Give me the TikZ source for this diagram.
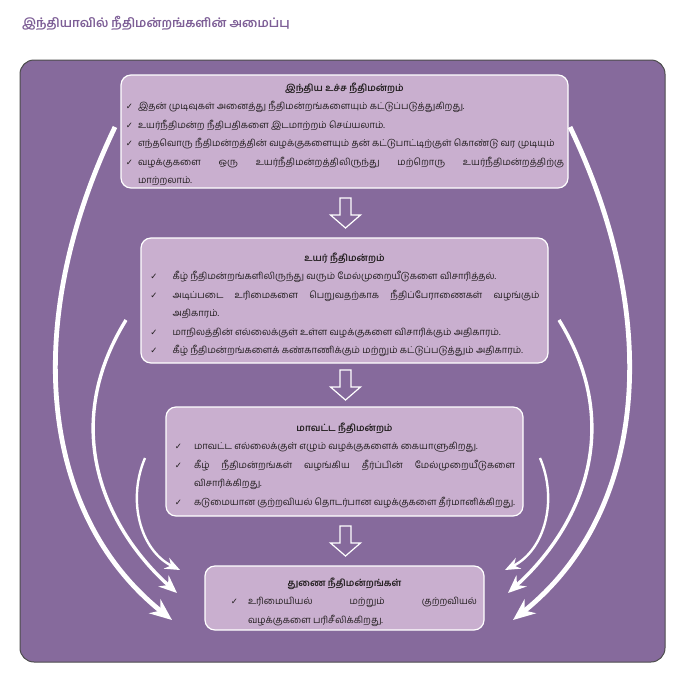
\documentclass[tikz,border=0pt]{standalone}
\usepackage{fontspec}
\newfontfamily\tamilfont[Script=Tamil]{Hind Madurai}
\newfontfamily\tickfont{DejaVu Sans}
\usetikzlibrary{arrows.meta,calc}

\definecolor{courtPurple}{HTML}{866A9C}
\definecolor{courtLilac}{HTML}{C9AFCF}
\definecolor{titlePurple}{HTML}{7D5E96}
\definecolor{courtText}{HTML}{231F20}

\newcommand{\bodySize}{\fontsize{9.4}{18.5}\selectfont}
\newcommand{\tickMark}{{\tickfont\fontsize{8.5}{9}\selectfont ✓}}
\newenvironment{ticklist}[2]{%
  \begin{list}{\tickMark}{%
    \setlength{\leftmargin}{#1}\setlength{\labelsep}{#2}%
    \setlength{\labelwidth}{\dimexpr#1-#2\relax}%
    \setlength{\itemsep}{0pt}\setlength{\parsep}{0pt}%
    \setlength{\topsep}{0pt}\setlength{\partopsep}{0pt}}}%
  {\end{list}}
\newcommand{\courtHead}[2]{{\centering\bfseries\rule{0pt}{#1}#2\par}}

\newcommand{\courtX}{344.5}
\newcommand{\arrowHalfLen}{15}
\newcommand{\shaftHalf}{5.5}
\newcommand{\headHalf}{15}

\tikzset{
  court/.style={draw=white, line width=1.2pt, fill=courtLilac, rounded corners=10pt,
    text=courtText, align=justify, inner ysep=2pt, font=\tamilfont\bodySize},
  hollow/.style={draw=white, line width=1.2pt, fill=courtPurple, line join=miter},
  bigarc/.style={white, line width=4.8pt, -{Stealth[length=22pt, width=18pt, inset=7pt]}},
  midarc/.style={white, line width=3.4pt, -{Stealth[length=18pt, width=15pt, inset=6pt]}},
  smallarc/.style={white, line width=2.4pt, -{Stealth[length=15pt, width=12pt, inset=5pt]}}
}

\begin{document}
\begin{tikzpicture}[x=1pt, y=-1pt]
    \useasboundingbox (0,0) rectangle (680,678);

    % Title
    \node[anchor=west, inner sep=0pt, text=titlePurple, font=\tamilfont\bfseries\fontsize{12.4}{15}\selectfont] (title) at (22,23) {இந்தியாவில் நீதிமன்றங்களின் அமைப்பு};

    % Frame
    \draw[line width=1pt, draw=black!70, fill=courtPurple, rounded corners=14pt] (20,60) rectangle (665,662);

    % Courts
    \node[court, text width=439pt, inner xsep=4pt, minimum height=113pt] (supreme) at (\courtX,131.5) {%
      \courtHead{14pt}{இந்திய உச்ச நீதிமன்றம்}
      \begin{ticklist}{13pt}{5pt}
        \item இதன் முடிவுகள் அனைத்து நீதிமன்றங்களையும் கட்டுப்படுத்துகிறது.
        \item உயர்நீதிமன்ற நீதிபதிகளை இடமாற்றம் செய்யலாம்.
        \item எந்தவொரு நீதிமன்றத்தின் வழக்குகளையும் தன் கட்டுபாட்டிற்குள் கொண்டு வர முடியும்
        \item வழக்குகளை ஒரு உயர்நீதிமன்றத்திலிருந்து மற்றொரு உயர்நீதிமன்றத்திற்கு\linebreak மாற்றலாம்.
      \end{ticklist}};
    \node[court, text width=390pt, inner xsep=8.5pt, minimum height=125pt] (high) at (\courtX,300.5) {%
      \courtHead{17pt}{உயர் நீதிமன்றம்}
      \begin{ticklist}{23pt}{15pt}
        \item கீழ் நீதிமன்றங்களிலிருந்து வரும் மேல்முறையீடுகளை விசாரித்தல்.
        \item அடிப்படை உரிமைகளை பெறுவதற்காக நீதிப்பேராணைகள் வழங்கும்\linebreak அதிகாரம்.
        \item மாநிலத்தின் எல்லைக்குள் உள்ள வழக்குகளை விசாரிக்கும் அதிகாரம்.
        \item கீழ் நீதிமன்றங்களைக் கண்காணிக்கும் மற்றும் கட்டுப்படுத்தும் அதிகாரம்.
      \end{ticklist}};
    \node[court, text width=341pt, inner xsep=8pt, minimum height=109pt] (district) at (\courtX,461.5) {%
      \courtHead{17pt}{மாவட்ட நீதிமன்றம்}
      \begin{ticklist}{20pt}{12pt}
        \item மாவட்ட எல்லைக்குள் எழும் வழக்குகளைக் கையாளுகிறது.
        \item கீழ் நீதிமன்றங்கள் வழங்கிய தீர்ப்பின் மேல்முறையீடுகளை\linebreak விசாரிக்கிறது.
        \item கடுமையான குற்றவியல் தொடர்பான வழக்குகளை தீர்மானிக்கிறது.
      \end{ticklist}};
    \node[court, text width=265pt, inner xsep=7pt, minimum height=64pt] (subordinate) at (\courtX,598) {%
      \courtHead{17pt}{துணை நீதிமன்றங்கள்}
      \begin{ticklist}{36pt}{10pt}
        \item உரிமையியல் மற்றும் குற்றவியல்\linebreak வழக்குகளை பரிசீலிக்கிறது.
      \end{ticklist}};

    % Draw hollow arrows between courts
    \coordinate (gapA) at ($(supreme.south)!0.5!(high.north)+(1,0)$);
    \coordinate (gapB) at ($(high.south)!0.5!(district.north)+(1,0)$);
    \coordinate (gapC) at ($(district.south)!0.5!(subordinate.north)+(1,0)$);
    \draw[hollow] ($(gapA)+(-\shaftHalf,-\arrowHalfLen)$) -- ++(2*\shaftHalf,0) -- ++(0,17) -- ++(\headHalf-\shaftHalf,0) -- ($(gapA)+(0,\arrowHalfLen)$) -- ++(-\headHalf,-13) -- ++(\headHalf-\shaftHalf,0) -- cycle;
    \draw[hollow] ($(gapB)+(-\shaftHalf,-\arrowHalfLen)$) -- ++(2*\shaftHalf,0) -- ++(0,17) -- ++(\headHalf-\shaftHalf,0) -- ($(gapB)+(0,\arrowHalfLen)$) -- ++(-\headHalf,-13) -- ++(\headHalf-\shaftHalf,0) -- cycle;
    \draw[hollow] ($(gapC)+(-\shaftHalf,-\arrowHalfLen)$) -- ++(2*\shaftHalf,0) -- ++(0,17) -- ++(\headHalf-\shaftHalf,0) -- ($(gapC)+(0,\arrowHalfLen)$) -- ++(-\headHalf,-13) -- ++(\headHalf-\shaftHalf,0) -- cycle;

    % Draw left arcs
    \coordinate (outerLeftStart) at (115,127);
    \coordinate (outerLeftEnd) at (172,620);
    \coordinate (midLeftStart) at (126,320);
    \coordinate (midLeftEnd) at (177,593);
    \coordinate (innerLeftStart) at (145,458);
    \coordinate (innerLeftEnd) at (180,570);
    \draw[bigarc] (outerLeftStart) .. controls (19,327) and (42,516) .. (outerLeftEnd);
    \draw[midarc] (midLeftStart) .. controls (58,430) and (107,530) .. (midLeftEnd);
    \draw[smallarc] (innerLeftStart) .. controls (127,500) and (140,550) .. (innerLeftEnd);

    % Draw right arcs
    \coordinate (outerRightStart) at (570,127);
    \coordinate (outerRightEnd) at (513,620);
    \coordinate (midRightStart) at (559,320);
    \coordinate (midRightEnd) at (508,593);
    \coordinate (innerRightStart) at (540,458);
    \coordinate (innerRightEnd) at (505,570);
    \draw[bigarc] (outerRightStart) .. controls (666,327) and (643,516) .. (outerRightEnd);
    \draw[midarc] (midRightStart) .. controls (627,430) and (578,530) .. (midRightEnd);
    \draw[smallarc] (innerRightStart) .. controls (558,500) and (545,550) .. (innerRightEnd);
\end{tikzpicture}
\end{document}
